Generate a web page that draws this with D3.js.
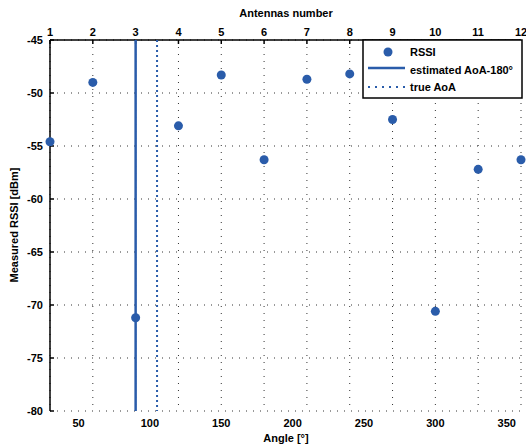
<!DOCTYPE html>
<html>
<head>
<meta charset="utf-8">
<script src="https://cdn.jsdelivr.net/npm/d3@7"></script>
<style>
  body { margin: 0; background: #fff; }
  text { font-family: "Liberation Sans", Arial, sans-serif; font-weight: bold; font-size: 11px; fill: #000; }
</style>
</head>
<body>
<div id="chart"></div>
<script>
// antenna i sits at 30*i degrees
var antennas = [1, 2, 3, 4, 5, 6, 7, 8, 9, 10, 11, 12];
var angles = [30, 60, 90, 120, 150, 180, 210, 240, 270, 300, 330, 360];
var rssi = [-54.6, -49.0, -71.2, -53.1, -48.3, -56.3, -48.7, -48.2, -52.5, -70.6, -57.2, -56.3];
var angleTicks = [50, 100, 150, 200, 250, 300, 350];
var rssiTicks = [-45, -50, -55, -60, -65, -70, -75, -80];
var estimatedAoA = 90;   // estimated AoA - 180
var trueAoA = 105;
var legendItems = ["RSSI", "estimated AoA-180\u00b0", "true AoA"];

var W = 526, H = 445;
var margin = {top: 40, right: 5, bottom: 34, left: 50};
var blue = "#2a5caa";

var svg = d3.select("#chart").append("svg")
	.attr("width", W)
	.attr("height", H);

var x = d3.scaleLinear().domain([30, 360]).range([margin.left, W - margin.right]);
var y = d3.scaleLinear().domain([-80, -45]).range([H - margin.bottom, margin.top]);

// grid (dotted, like matlab)
var grid = svg.append("g").attr("stroke", "#333").attr("stroke-width", 1).attr("stroke-dasharray", "1,6");
grid.selectAll("line.h").data(rssiTicks).enter().append("line")
	.attr("x1", x(30)).attr("x2", x(360))
	.attr("y1", function(d) { return y(d); }).attr("y2", function(d) { return y(d); });
grid.selectAll("line.v").data(angles).enter().append("line")
	.attr("x1", function(d) { return x(d); }).attr("x2", function(d) { return x(d); })
	.attr("y1", y(-45)).attr("y2", y(-80));

// axis lines
svg.append("line").attr("x1", x(30)).attr("x2", x(30)).attr("y1", y(-45)).attr("y2", y(-80))
	.attr("stroke", "#000").attr("stroke-width", 1.5);
svg.append("line").attr("x1", x(30)).attr("x2", x(360)).attr("y1", y(-45)).attr("y2", y(-45))
	.attr("stroke", "#000").attr("stroke-width", 1.5);

// left ticks
svg.selectAll("line.yt").data(rssiTicks).enter().append("line")
	.attr("x1", x(30)).attr("x2", x(30) + 4)
	.attr("y1", function(d) { return y(d); }).attr("y2", function(d) { return y(d); })
	.attr("stroke", "#000").attr("stroke-width", 1.5);
svg.selectAll("text.yl").data(rssiTicks).enter().append("text")
	.attr("x", x(30) - 7).attr("y", function(d) { return y(d) + 4; })
	.attr("text-anchor", "end")
	.text(function(d) { return d; });

// top ticks (antennas)
svg.selectAll("line.xt").data(angles).enter().append("line")
	.attr("x1", function(d) { return x(d); }).attr("x2", function(d) { return x(d); })
	.attr("y1", y(-45)).attr("y2", y(-45) + 4)
	.attr("stroke", "#000").attr("stroke-width", 1.5);
svg.selectAll("text.al").data(antennas).enter().append("text")
	.attr("x", function(d, i) { return x(angles[i]); }).attr("y", 36)
	.attr("text-anchor", "middle")
	.text(function(d) { return d; });

// bottom labels (angle)
svg.selectAll("text.xl").data(angleTicks).enter().append("text")
	.attr("x", function(d) { return x(d); }).attr("y", 427)
	.attr("text-anchor", "middle")
	.text(function(d) { return d; });

// titles
svg.append("text").attr("x", 286).attr("y", 17).attr("text-anchor", "middle").text("Antennas number");
svg.append("text").attr("x", 286).attr("y", 442).attr("text-anchor", "middle").text("Angle [\u00b0]");
svg.append("text").attr("transform", "translate(18,225) rotate(-90)").attr("text-anchor", "middle")
	.text("Measured RSSI [dBm]");

// AoA lines
svg.append("line").attr("x1", x(estimatedAoA)).attr("x2", x(estimatedAoA))
	.attr("y1", y(-45)).attr("y2", y(-80))
	.attr("stroke", blue).attr("stroke-width", 2.5);
svg.append("line").attr("x1", x(trueAoA)).attr("x2", x(trueAoA))
	.attr("y1", y(-45)).attr("y2", y(-80))
	.attr("stroke", blue).attr("stroke-width", 2).attr("stroke-dasharray", "2,3");

// RSSI points
svg.selectAll("circle.pt").data(rssi).enter().append("circle")
	.attr("cx", function(d, i) { return x(angles[i]); })
	.attr("cy", function(d) { return y(d); })
	.attr("r", 4.5)
	.attr("fill", blue);

// legend
var lg = svg.append("g").attr("transform", "translate(363,40)");
lg.append("rect").attr("width", 159).attr("height", 58)
	.attr("fill", "#fff").attr("stroke", "#000").attr("stroke-width", 1.5);
lg.append("circle").attr("cx", 25).attr("cy", 12).attr("r", 4.5).attr("fill", blue);
lg.append("line").attr("x1", 5).attr("x2", 42).attr("y1", 28).attr("y2", 28)
	.attr("stroke", blue).attr("stroke-width", 2.5);
lg.append("line").attr("x1", 5).attr("x2", 42).attr("y1", 47).attr("y2", 47)
	.attr("stroke", blue).attr("stroke-width", 2).attr("stroke-dasharray", "2,5");
lg.selectAll("text.lt").data(legendItems).enter().append("text")
	.attr("x", 47).attr("y", function(d, i) { return 16 + i * 17.5; })
	.text(function(d) { return d; });
</script>
</body>
</html>
